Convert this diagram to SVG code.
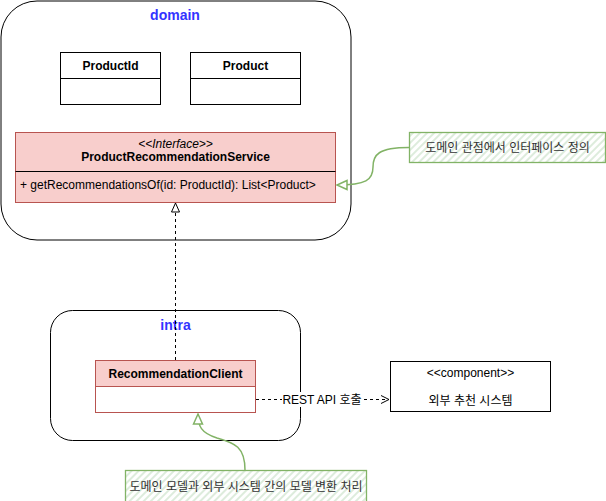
<svg xmlns="http://www.w3.org/2000/svg" width="606" height="501" viewBox="0 0 606 501">
<style>
text{font-family:"Liberation Sans",Arial,"Noto Sans CJK KR",sans-serif;font-size:12px;fill:#000}
.b{font-weight:bold}
.pkg{fill:#fff;stroke:#000;stroke-width:1}
.pl{font-weight:bold;font-size:14px;fill:#3333FF}
.cls{fill:#fff;stroke:#000}
.pink{fill:#f8cecc;stroke:#b85450}
.note{fill:url(#hatch);stroke:#82b366;stroke-width:1.3}
.nt{fill:#333;font-family:"Liberation Sans","Noto Sans CJK KR",sans-serif}
.gl{fill:none;stroke:#82b366;stroke-width:1.5}
.dash{fill:none;stroke:#000;stroke-dasharray:3 3}
</style>
<defs>
<pattern id="hatch" width="5" height="5" patternUnits="userSpaceOnUse" patternTransform="rotate(45)">
<rect width="5" height="5" fill="#fff"/>
<line x1="1" y1="0" x2="1" y2="5" stroke="#d5e8d4" stroke-width="1.6"/>
</pattern>
<marker id="tri" markerWidth="12" markerHeight="12" refX="10" refY="5" orient="auto" markerUnits="userSpaceOnUse">
<path d="M1,1 L10,5 L1,9 Z" fill="#fff" stroke="#000"/>
</marker>
<marker id="open" markerWidth="12" markerHeight="12" refX="9" refY="5" orient="auto" markerUnits="userSpaceOnUse">
<path d="M1,1 L9,5 L1,9" fill="none" stroke="#000"/>
</marker>
<marker id="gtri" markerWidth="14" markerHeight="14" refX="11" refY="6" orient="auto" markerUnits="userSpaceOnUse">
<path d="M1,1.5 L11,6 L1,10.5 Z" fill="#fff" stroke="#82b366" stroke-width="1.5"/>
</marker>
</defs>

<g id="domain">
<rect class="pkg" x="1" y="1" width="350" height="239" rx="36" ry="36"/>
<text class="pl" x="175" y="20" text-anchor="middle">domain</text>
</g>

<g id="productId">
<rect class="cls" x="60.5" y="52.5" width="100" height="52"/>
<line x1="60.5" y1="78.5" x2="160.5" y2="78.5" stroke="#000"/>
<text class="b" x="110.5" y="70" text-anchor="middle">ProductId</text>
</g>

<g id="product">
<rect class="cls" x="190.5" y="52.5" width="110" height="52"/>
<line x1="190.5" y1="78.5" x2="300.5" y2="78.5" stroke="#000"/>
<text class="b" x="245.5" y="70" text-anchor="middle">Product</text>
</g>

<g id="productRecommendationService">
<rect class="pink" x="15.5" y="132.5" width="320" height="70"/>
<line x1="15.5" y1="171.5" x2="335.5" y2="171.5" stroke="#000"/>
<text x="175.5" y="148" text-anchor="middle" font-style="italic">&lt;&lt;Interface&gt;&gt;</text>
<text class="b" x="175.5" y="161" text-anchor="middle">ProductRecommendationService</text>
<text x="20" y="189">+ getRecommendationsOf(id: ProductId): List&lt;Product&gt;</text>
</g>

<g id="noteDomain">
<rect class="note" x="409.5" y="132.5" width="196" height="30"/>
<text class="nt" x="507.5" y="152" text-anchor="middle">도메인 관점에서 인터페이스 정의</text>
</g>

<g id="intra">
<rect class="pkg" x="50.5" y="310.5" width="250" height="130" rx="22" ry="22"/>
<text class="pl" x="175.5" y="330" text-anchor="middle">intra</text>
</g>

<g id="recommendationClient">
<rect x="95.5" y="360.5" width="160" height="52" fill="#fff" stroke="#b85450"/>
<rect x="95.5" y="360.5" width="160" height="26" fill="#f8cecc" stroke="#b85450"/>
<text class="b" x="175.5" y="378" text-anchor="middle">RecommendationClient</text>
</g>

<g id="externalSystem">
<rect class="cls" x="390.5" y="361.5" width="160" height="50"/>
<text x="470.5" y="377" text-anchor="middle">&lt;&lt;component&gt;&gt;</text>
<text x="470.5" y="405" text-anchor="middle" font-family="'Liberation Sans','Noto Sans CJK KR',sans-serif">외부 추천 시스템</text>
</g>

<g id="noteIntra">
<rect class="note" x="125.5" y="470.5" width="241" height="40"/>
<text class="nt" x="246" y="491" text-anchor="middle">도메인 모델과 외부 시스템 간의 모델 변환 처리</text>
</g>

<g id="connectors">
<path class="dash" d="M175.5,360 L175.5,203" marker-end="url(#tri)"/>
<path class="dash" d="M256,399.5 L389,399.5" marker-end="url(#open)"/>
<rect x="282" y="392" width="80" height="15" fill="#fff"/>
<text x="322" y="403.5" text-anchor="middle" font-size="11px">REST API 호출</text>
<path class="gl" d="M409,147.5 C378,147.5 373,155 373,167 C373,180 366,185 337,185" marker-end="url(#gtri)"/>
<path class="gl" d="M245,470 C245,447 235,443 217,438 C201,433 198,426 198,414" marker-end="url(#gtri)"/>
</g>
</svg>
